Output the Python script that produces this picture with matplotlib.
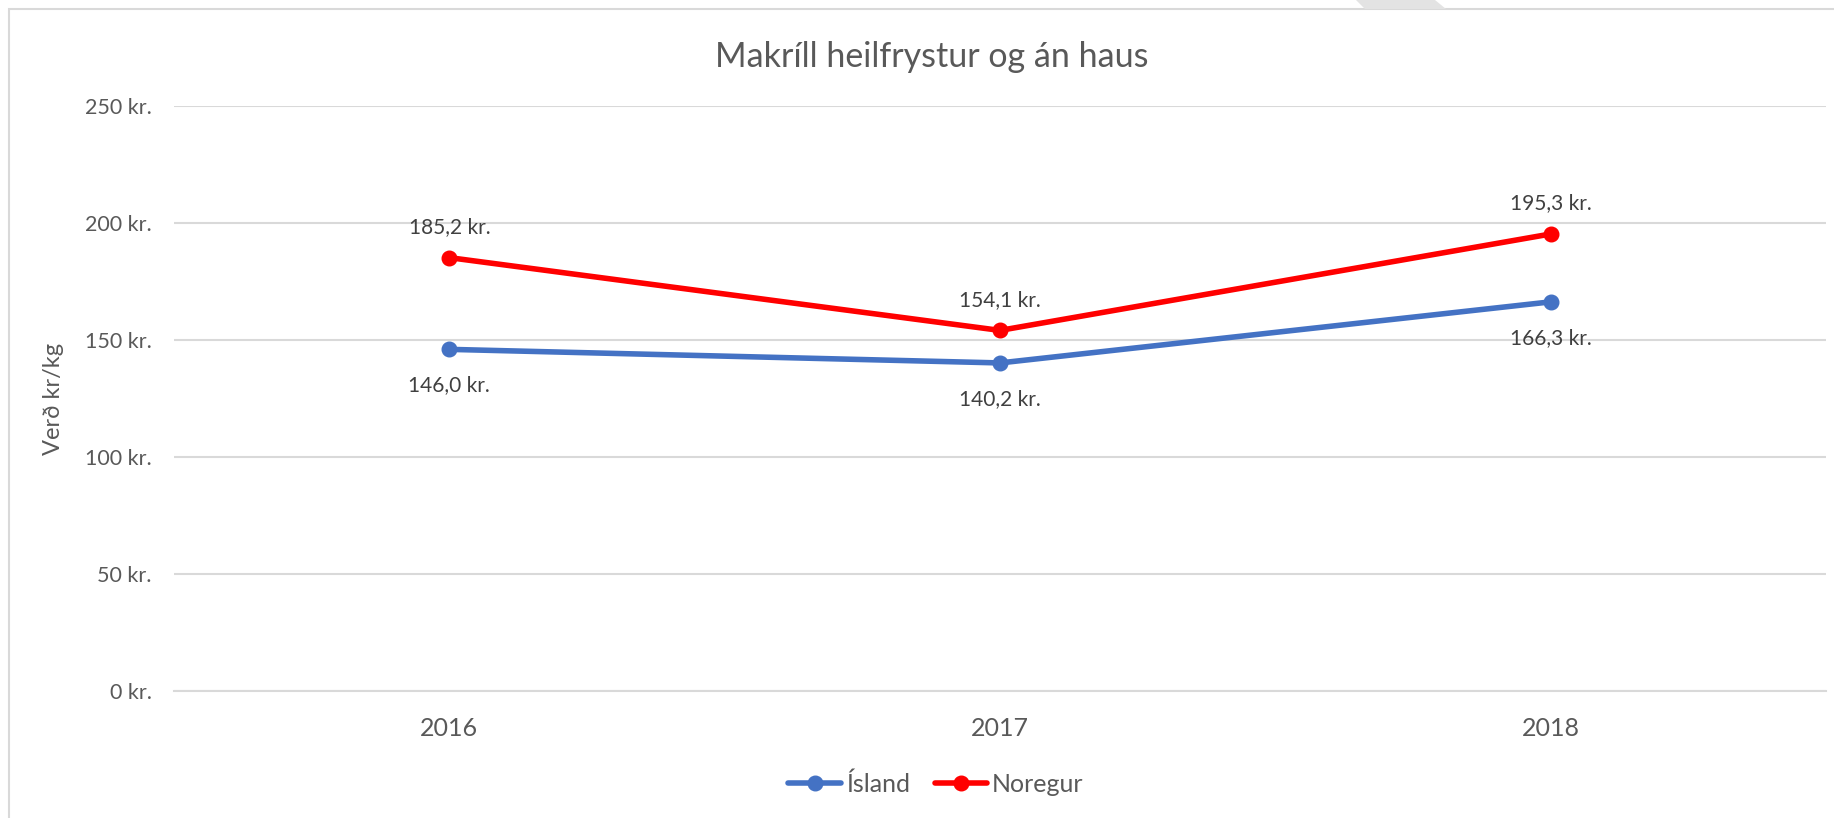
import numpy as np
import matplotlib.pyplot as plt
from matplotlib.patches import Rectangle, Polygon

years = ['2016', '2017', '2018']
island = [146.0, 140.2, 166.3]
noregur = [185.2, 154.1, 195.3]
yticks = [0, 50, 100, 150, 200, 250]

def kr(v):
    return ('%.1f kr.' % v).replace('.', ',', 1)

def main():
    plt.rcParams['font.family'] = ['Lato', 'DejaVu Sans']
    txt = '#595959'

    fig = plt.figure(figsize=(18.34, 8.18), dpi=100)
    ax = fig.add_axes([174 / 1834, 1 - 691 / 818, 1652 / 1834, 585 / 818])

    # chart area border + the grey shape cut off at the top
    fig.patches.append(Rectangle((9 / 1834, -0.1), 1.2, 1 - 9 / 818 + 0.1,
                                 transform=fig.transFigure, fill=False,
                                 edgecolor='#d9d9d9', lw=1.5))
    fig.patches.append(Polygon([(1356 / 1834, 1.0), (1435 / 1834, 1.0),
                                (1446 / 1834, 1 - 9 / 818), (1365 / 1834, 1 - 9 / 818)],
                               closed=True, transform=fig.transFigure,
                               facecolor='#e3e3e3', edgecolor='none'))

    x = np.arange(len(years))
    ax.plot(x, island, '-o', color='#4472c4', lw=4, ms=10.5, label='Ísland',
            solid_capstyle='round', zorder=3)
    ax.plot(x, noregur, '-o', color='#ff0000', lw=4, ms=10.5, label='Noregur',
            solid_capstyle='round', zorder=3)

    for i in range(len(years)):
        ax.annotate(kr(noregur[i]), (x[i], noregur[i]), xytext=(0, 22),
                    textcoords='offset points', ha='center', va='center',
                    fontsize=15, color='#404040')
        ax.annotate(kr(island[i]), (x[i], island[i]), xytext=(0, -26),
                    textcoords='offset points', ha='center', va='center',
                    fontsize=15, color='#404040')

    ax.set_xlim(-0.5, len(years) - 0.5)
    ax.set_ylim(0, 250)
    ax.set_xticks(x)
    ax.set_xticklabels(years)
    ax.set_yticks(yticks)
    ax.set_yticklabels(['%d kr.' % v for v in yticks])
    ax.tick_params(axis='y', length=0, pad=16, labelsize=15.5, labelcolor=txt)
    ax.tick_params(axis='x', length=0, pad=19, labelsize=18, labelcolor=txt)

    ax.grid(axis='y', color='#d9d9d9', lw=1.5)
    ax.set_axisbelow(True)
    for s in ['top', 'right', 'left']:
        ax.spines[s].set_visible(False)
    ax.spines['bottom'].set_color('#d9d9d9')
    ax.spines['bottom'].set_linewidth(1.5)

    ax.set_ylabel('Verð kr/kg', fontsize=17, color=txt)
    ax.yaxis.set_label_coords((64 - 174) / 1652, 0.5)

    fig.text(932 / 1834, 1 - 57 / 818, 'Makríll heilfrystur og án haus',
             ha='center', va='center', fontsize=24.5, color=txt)

    leg = fig.legend(loc='center', bbox_to_anchor=(936 / 1834, 1 - 784 / 818),
                     ncol=2, frameon=False, fontsize=18, handlelength=2.1,
                     handletextpad=0.2, columnspacing=1.0, labelcolor=txt)

    fig.savefig('out.png', dpi=100)

if __name__ == '__main__':
    main()
